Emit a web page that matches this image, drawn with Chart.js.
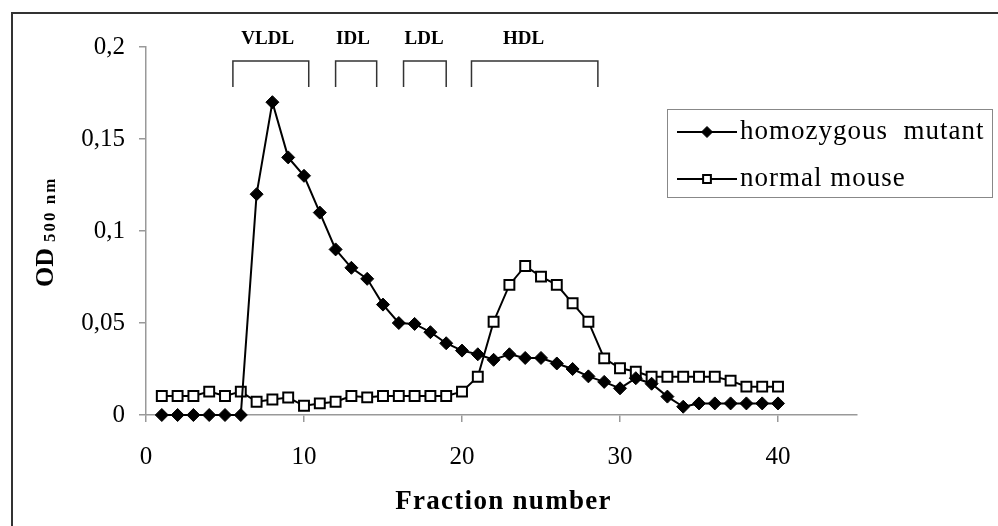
<!DOCTYPE html>
<html>
<head>
<meta charset="utf-8">
<script src="https://cdn.jsdelivr.net/npm/chart.js@4.4.1/dist/chart.umd.min.js"></script>
<style>
  body { margin: 0; background: #fff; }
</style>
</head>
<body>
<canvas id="out" width="998" height="526"></canvas>
<script>
// fraction numbers and OD 500 nm readings
const fractions = [1, 2, 3, 4, 5, 6, 7, 8, 9, 10, 11, 12, 13, 14, 15, 16, 17, 18, 19, 20,
  21, 22, 23, 24, 25, 26, 27, 28, 29, 30, 31, 32, 33, 34, 35, 36, 37, 38, 39, 40];
const mutantOD = [0, 0, 0, 0, 0, 0, 0.12, 0.17, 0.14, 0.13, 0.11, 0.09, 0.08, 0.074, 0.06, 0.05,
  0.0495, 0.045, 0.039, 0.035, 0.033, 0.03, 0.033, 0.031, 0.031, 0.028, 0.025, 0.021, 0.018, 0.0145,
  0.02, 0.017, 0.01, 0.0045, 0.0063, 0.0063, 0.0063, 0.0063, 0.0063, 0.0063];
const normalOD = [0.0103, 0.0103, 0.0103, 0.0127, 0.0103, 0.0127, 0.0072, 0.0084, 0.0095, 0.005,
  0.0063, 0.0072, 0.0103, 0.0096, 0.0103, 0.0103, 0.0103, 0.0103, 0.0103, 0.0127, 0.0208, 0.0507,
  0.0707, 0.081, 0.0752, 0.0707, 0.0607, 0.0507, 0.0308, 0.0254, 0.0236, 0.0208, 0.0208, 0.0208,
  0.0208, 0.0208, 0.0187, 0.0154, 0.0154, 0.0154];
const seriesNames = ["homozygous  mutant", "normal mouse"];

const xTicks = [0, 10, 20, 30, 40];
const yTicks = [0, 0.05, 0.1, 0.15, 0.2];

// lipoprotein bands (in fraction numbers)
const bandNames = ["VLDL", "IDL", "LDL", "HDL"];
const bandStart = [5.5, 12, 16.3, 20.6];
const bandEnd = [10.3, 14.6, 19, 28.6];
const bandLabelAt = [7.7, 13.1, 17.6, 23.9];

const serif = '"Liberation Serif", "Times New Roman", serif';

function toPoints(ys) {
  var pts = [];
  for (let i = 0; i < fractions.length; i++) {
    pts[i] = { x: fractions[i], y: ys[i] };
  }
  return pts;
}

var mutantData = {
  label: seriesNames[0],
  data: toPoints(mutantOD),
  borderColor: '#000',
  borderWidth: 2,
  backgroundColor: '#000',
  pointStyle: 'rectRot',
  pointRadius: 6.5,
  pointBorderWidth: 1,
  pointBackgroundColor: '#000',
  pointBorderColor: '#000',
  clip: false
};

var normalData = {
  label: seriesNames[1],
  data: toPoints(normalOD),
  borderColor: '#000',
  borderWidth: 2,
  backgroundColor: '#fff',
  pointStyle: 'rect',
  pointRadius: 7,
  pointBorderWidth: 2,
  pointBackgroundColor: '#fff',
  pointBorderColor: '#000',
  clip: false
};

// frame, band brackets, axis titles and legend
const decorPlugin = {
  id: 'decor',
  beforeDraw(chart) {
    const ctx = chart.ctx;
    ctx.letterSpacing = '0px';
    ctx.save();
    ctx.fillStyle = '#fff';
    ctx.fillRect(0, 0, chart.width, chart.height);
    ctx.strokeStyle = '#333';
    ctx.lineWidth = 2;
    ctx.beginPath();
    ctx.moveTo(12, chart.height);
    ctx.lineTo(12, 13);
    ctx.lineTo(chart.width, 13);
    ctx.stroke();
    ctx.restore();
  },
  afterDraw(chart) {
    const ctx = chart.ctx;
    const xs = chart.scales.x;

    // brackets
    ctx.save();
    ctx.strokeStyle = '#333';
    ctx.lineWidth = 1.5;
    ctx.fillStyle = '#000';
    ctx.font = 'bold 19px ' + serif;
    ctx.textAlign = 'center';
    ctx.textBaseline = 'middle';
    for (let i = 0; i < bandNames.length; i++) {
      const x1 = xs.getPixelForValue(bandStart[i]);
      const x2 = xs.getPixelForValue(bandEnd[i]);
      ctx.beginPath();
      ctx.moveTo(x1, 87);
      ctx.lineTo(x1, 61);
      ctx.lineTo(x2, 61);
      ctx.lineTo(x2, 87);
      ctx.stroke();
      ctx.fillText(bandNames[i], xs.getPixelForValue(bandLabelAt[i]), 39);
    }
    ctx.restore();

    // x axis title
    ctx.save();
    ctx.fillStyle = '#000';
    ctx.font = 'bold 27px ' + serif;
    ctx.letterSpacing = '1.3px';
    ctx.textAlign = 'center';
    ctx.textBaseline = 'middle';
    ctx.fillText('Fraction number', (xs.left + xs.right) / 2 + 2, 502);
    ctx.letterSpacing = '0px';
    ctx.restore();

    // y axis title with subscript
    ctx.save();
    ctx.translate(53, 287);
    ctx.rotate(-Math.PI / 2);
    ctx.fillStyle = '#000';
    ctx.textAlign = 'left';
    ctx.textBaseline = 'alphabetic';
    ctx.font = 'bold 26px ' + serif;
    ctx.fillText('OD', 0, 0);
    const w = ctx.measureText('OD').width;
    ctx.font = 'bold 17px ' + serif;
    ctx.letterSpacing = '2px';
    ctx.fillText('500 nm', w + 6, 2);
    ctx.letterSpacing = '0px';
    ctx.restore();

    // legend
    ctx.save();
    ctx.strokeStyle = '#888';
    ctx.lineWidth = 1;
    ctx.strokeRect(667.5, 109.5, 325, 88);
    const rows = [132, 179];
    ctx.font = '27px ' + serif;
    ctx.letterSpacing = '1px';
    ctx.textAlign = 'left';
    ctx.textBaseline = 'middle';
    chart.data.datasets.forEach(function (ds, i) {
      const y = rows[i];
      ctx.strokeStyle = '#000';
      ctx.lineWidth = 2;
      ctx.beginPath();
      ctx.moveTo(677, y);
      ctx.lineTo(737, y);
      ctx.stroke();
      ctx.fillStyle = ds.pointBackgroundColor;
      ctx.strokeStyle = '#000';
      ctx.lineWidth = ds.pointBorderWidth;
      Chart.helpers.drawPoint(ctx, {
        pointStyle: ds.pointStyle,
        radius: 5.5,
        rotation: 0,
        borderWidth: ds.pointBorderWidth
      }, 707, y);
      ctx.fillStyle = '#000';
      ctx.fillText(ds.label, 740, y);
    });
    ctx.letterSpacing = '0px';
    ctx.restore();
  }
};

const canvasCtx = document.getElementById('out').getContext('2d');

var lineChart = new Chart(canvasCtx, {
  type: 'line',
  data: { datasets: [mutantData, normalData] },
  plugins: [decorPlugin],
  options: {
    responsive: false,
    animation: false,
    layout: { padding: { left: 0, right: 141, top: 47, bottom: 0 } },
    plugins: {
      legend: { display: false },
      tooltip: { enabled: false }
    },
    elements: { line: { tension: 0 } },
    scales: {
      x: {
        type: 'linear',
        min: 0,
        max: 45,
        afterBuildTicks: function (scale) {
          scale.ticks = xTicks.map(function (v) { return { value: v }; });
        },
        afterFit: function (scale) { scale.height = 111; },
        border: { display: true, color: '#999', width: 1.5 },
        grid: { display: true, drawOnChartArea: false, drawTicks: true, tickLength: 7, color: '#999', lineWidth: 1.5 },
        ticks: {
          color: '#000',
          padding: 20,
          maxRotation: 0,
          font: { family: serif, size: 25 }
        }
      },
      y: {
        min: 0,
        max: 0.2,
        afterBuildTicks: function (scale) {
          scale.ticks = yTicks.map(function (v) { return { value: v }; });
        },
        afterFit: function (scale) { scale.width = 146; },
        border: { display: true, color: '#999', width: 1.5 },
        grid: { display: true, drawOnChartArea: false, drawTicks: true, tickLength: 7, color: '#999', lineWidth: 1.5 },
        ticks: {
          color: '#000',
          padding: 14,
          font: { family: serif, size: 25 },
          callback: function (v) {
            return String(Math.round(v * 100) / 100).replace('.', ',');
          }
        }
      }
    }
  }
});
</script>
</body>
</html>
